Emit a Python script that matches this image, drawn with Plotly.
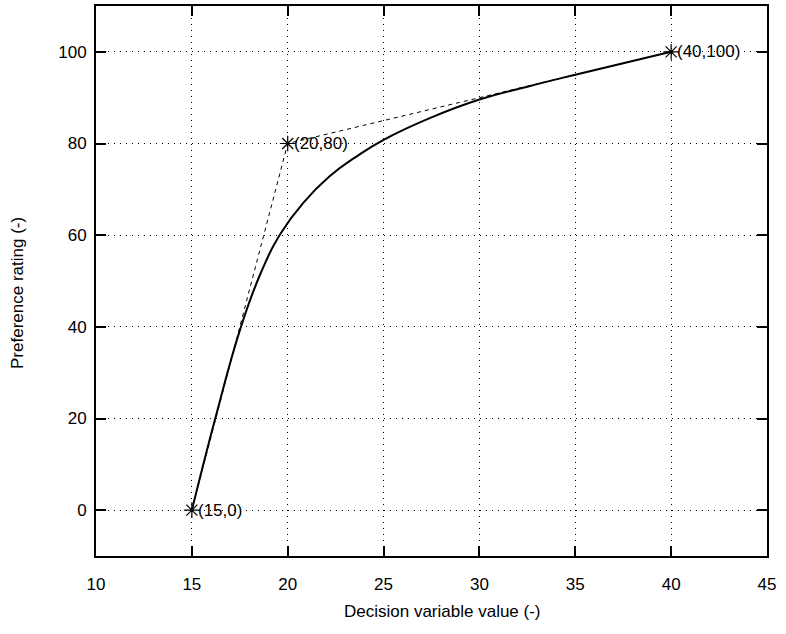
import plotly.graph_objects as go

# Data
point_x = [15, 20, 40]
point_y = [0, 80, 100]
point_labels = ["(15,0)", "(20,80)", "(40,100)"]

curve_x = [15, 16.22, 17.56, 18.6, 19.64, 20.8, 22.2, 23.6, 25, 27.5, 30, 32.5, 35, 37.5, 40]
curve_y = [0, 20, 40, 51.8, 60.4, 67.0, 72.9, 77.2, 80.8, 85.7, 89.6, 92.4, 95.0, 97.5, 100]

x_ticks = [10, 15, 20, 25, 30, 35, 40, 45]
y_ticks = [0, 20, 40, 60, 80, 100]

x_title = "Decision variable value (-)"
y_title = "Preference rating (-)"

FONT = "Liberation Sans, Arial, Helvetica, sans-serif"
FS = 17

fig = go.Figure()
fig.add_trace(go.Scatter(x=point_x, y=point_y, mode="lines",
                         line=dict(color="black", width=1, dash="4px,4px"),
                         showlegend=False, hoverinfo="skip"))
fig.add_trace(go.Scatter(x=curve_x, y=curve_y, mode="lines",
                         line=dict(color="black", width=2, shape="spline", smoothing=1.3),
                         showlegend=False))
fig.add_trace(go.Scatter(x=point_x, y=point_y, mode="markers",
                         marker=dict(symbol="asterisk-open", size=13, color="black",
                                     line=dict(color="black", width=1.2)),
                         showlegend=False))

for px, py, lab in zip(point_x, point_y, point_labels):
    fig.add_annotation(x=px, y=py, text=lab, showarrow=False, xanchor="left",
                       yanchor="middle", xshift=4,
                       font=dict(family=FONT, size=FS, color="black"))

axis_common = dict(
    showline=True, linecolor="black", linewidth=2, mirror="allticks",
    ticks="inside", ticklen=10, tickwidth=1.5, tickcolor="black",
    showgrid=True, gridcolor="black", gridwidth=1, griddash="1px,5px",
    zeroline=False, tickfont=dict(family=FONT, size=FS, color="black"),
)

fig.update_xaxes(range=[10, 45], tickvals=x_ticks, ticklabelstandoff=12, **axis_common)
fig.update_yaxes(range=[-10, 110], tickvals=y_ticks, ticklabelstandoff=4, **axis_common)

# Axis titles (placed as annotations to match reference offsets)
fig.add_annotation(xref="paper", yref="paper", x=0.5, y=0, xshift=11, yshift=-55,
                   text=x_title, showarrow=False, xanchor="center", yanchor="middle",
                   font=dict(family=FONT, size=FS, color="black"))
fig.add_annotation(xref="paper", yref="paper", x=0, y=0.5, xshift=-79, yshift=-12,
                   text=y_title, showarrow=False, textangle=-90,
                   xanchor="center", yanchor="middle",
                   font=dict(family=FONT, size=FS, color="black"))

fig.update_layout(
    width=786, height=634,
    margin=dict(l=96, r=19, t=4, b=78),
    paper_bgcolor="white", plot_bgcolor="white",
    font=dict(family=FONT, size=FS, color="black"),
)

fig.write_html("out.html")
